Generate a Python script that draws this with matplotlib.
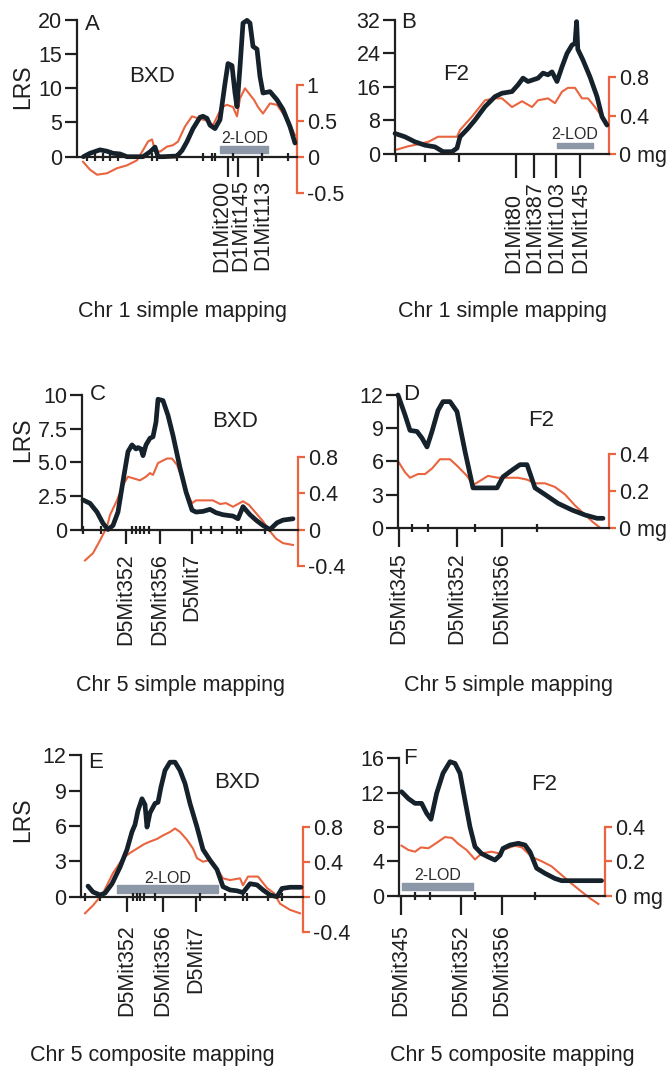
import matplotlib
matplotlib.use('Agg')
import matplotlib.pyplot as plt

plt.rcParams['font.family'] = ['Liberation Sans', 'DejaVu Sans']

W, H = 672, 1073
INK = '#1f1f1f'
LRS_COL = '#15212b'
EFF_COL = '#e9643f'
LOD_COL = '#8c97a7'

# ---- A: Chr 1, BXD, simple mapping ----
a_lrs_cm = [3.2, 6.5, 11.5, 15, 18, 21.5, 25, 30, 33, 36.5, 39, 40.5, 43, 50, 52.5, 55, 58, 61.5, 63, 65,
            66.5, 69, 71.5, 74, 75.5, 77.5, 79, 80, 81.5, 83, 85, 86.5, 88, 90, 91.5, 93, 96.5, 100, 103,
            106.5, 109]
a_lrs = [0, 0.5, 1.0, 0.8, 0.5, 0.4, 0, 0, 0, 0.7, 1.4, 0, 0, 0.1, 0.9, 2.2, 4.1, 5.75, 5.9, 5.6,
         4.6, 4.1, 5.4, 10.7, 13.6, 13.3, 9.3, 7.3, 13.1, 19.5, 19.9, 19.5, 16.1, 15.7, 11.7, 9.3, 9.5, 8.3,
         6.9, 4.4, 2.0]
a_eff_cm = [3, 6.5, 10, 15, 20, 25, 30, 33, 35.5, 37.5, 39, 41.5, 45, 48, 50.5, 54, 57.5, 61, 65, 68,
            72.5, 75, 78, 80, 81.5, 84, 86.5, 88.5, 90.5, 93, 96.5, 100, 103, 106.5, 109]
a_eff = [-0.07, -0.18, -0.25, -0.23, -0.16, -0.12, -0.05, 0.09, 0.21, 0.24, 0.09, 0.07, 0.14, 0.16, 0.21,
         0.42, 0.56, 0.53, 0.5, 0.44, 0.69, 0.72, 0.69, 0.56, 0.81, 0.95, 0.86, 0.79, 0.69, 0.6, 0.74,
         0.72, 0.6, 0.45, 0.3]
a_minor = [5, 9, 13, 16.5, 20.5, 37.5, 40, 50, 63, 67.5, 69, 78, 92.5, 105.5]
a_markers = [75.3, 80.3, 90.7]
a_names = ['D1Mit200', 'D1Mit145', 'D1Mit113']
a_lod = (71.5, 95.7, 1.12)

# ---- B: Chr 1, F2, simple mapping ----
b_lrs_cm = [0, 5, 10, 15, 20, 24, 28.5, 31, 32.5, 36.5, 40, 45, 50, 53.5, 58.5, 61.5, 64, 66.5, 69,
            71.5, 74, 76.5, 78.5, 81, 83.5, 86, 88.5, 90, 90.8, 91.4, 94, 97.5, 101, 103.5, 106]
b_lrs = [4.9, 4.1, 2.9, 2.1, 1.7, 0.55, 0.55, 1.4, 4.1, 6.1, 8.1, 11.3, 13.7, 14.5, 14.9, 16.5, 18.1,
         17.3, 17.7, 18.1, 19.3, 18.9, 19.6, 17.3, 20.8, 24.0, 26.0, 26.4, 31.6, 25.0, 22.4, 18.4, 13.7,
         8.9, 6.9]
b_eff_cm = [0, 6.5, 13.5, 17, 21.5, 31, 32.5, 38.5, 45, 50, 53.5, 58.5, 63.5, 68.5, 71.5, 76.5, 80,
            83.5, 86.5, 90, 93.5, 96.5, 100, 103.5, 105.5]
b_eff = [0.04, 0.08, 0.11, 0.13, 0.18, 0.18, 0.25, 0.39, 0.56, 0.58, 0.58, 0.49, 0.55, 0.49, 0.56,
         0.58, 0.53, 0.65, 0.69, 0.69, 0.58, 0.58, 0.49, 0.39, 0.32]
b_minor = [0.5, 15, 32]
b_markers = [60.5, 69.5, 80.5, 92.5]
b_names = ['D1Mit80', 'D1Mit387', 'D1Mit103', 'D1Mit145']
b_lod = (81, 99, 1.96)

# ---- C: Chr 5, BXD, simple mapping ----
c_lrs_cm = [0.5, 4, 7.5, 10.5, 13, 15.5, 18, 20.5, 23, 25, 27, 28, 29.5, 30.5, 32, 34, 35.5, 37, 38,
            40.5, 43, 45.5, 49, 52, 55, 57, 60.5, 64, 67, 70.5, 75.5, 78, 80.5, 84, 87, 90.5, 94, 97.5,
            100.5, 105.5]
c_lrs = [2.2, 1.95, 1.3, 0.46, 0.0, 0.3, 1.3, 3.6, 5.8, 6.3, 6.0, 6.1, 6.0, 5.5, 6.3, 6.8, 6.9, 8.0,
         9.7, 9.6, 8.5, 7.0, 4.6, 2.8, 1.45, 1.3, 1.35, 1.5, 1.25, 1.1, 1.0, 0.8, 1.7, 1.1, 0.7, 0.3, 0.0,
         0.5, 0.7, 0.8]
c_eff_cm = [1.5, 5.5, 9, 12.5, 14, 17.5, 20.5, 23, 26, 29, 32, 34, 35.5, 38, 42.5, 45, 47.5, 50.5, 53,
            55, 57, 60.5, 65.5, 69, 72, 75.5, 80.5, 83.5, 87, 90.5, 94, 97, 100.5, 105.5]
c_eff = [-0.34, -0.26, -0.12, 0.03, 0.16, 0.32, 0.49, 0.58, 0.56, 0.54, 0.58, 0.62, 0.6, 0.73, 0.78,
         0.78, 0.71, 0.53, 0.38, 0.29, 0.32, 0.32, 0.32, 0.28, 0.29, 0.25, 0.31, 0.27, 0.18, 0.09, -0.02,
         -0.1, -0.15, -0.17]
c_minor = [0.5, 9.5, 25, 27, 29, 31, 33.5, 59.5, 64.5, 70, 77.5, 79.5, 91.5]
c_markers = [22, 39, 55]
c_names = ['D5Mit352', 'D5Mit356', 'D5Mit7']

# ---- D: Chr 5, F2, simple mapping ----
d_lrs_cm = [0, 3.5, 6, 9.5, 12, 14.5, 17, 20, 22.5, 26, 29.5, 33.5, 37.5, 43.5, 49.5, 52.5, 57, 61,
            64.5, 68.5, 73.5, 80, 87, 93.5, 99.5, 102.5]
d_lrs = [12, 10.2, 8.8, 8.7, 8.1, 7.3, 8.7, 10.6, 11.4, 11.4, 10.5, 6.9, 3.6, 3.6, 3.6, 4.6, 5.2, 5.7,
         5.7, 3.6, 3.0, 2.2, 1.6, 1.15, 0.85, 0.85]
d_eff_cm = [0, 3.5, 6, 10, 13.5, 17, 21, 26, 30, 34.5, 37.5, 42, 45, 50, 55, 60, 64.5, 68.5, 73.5,
            78.5, 83.5, 88.5, 93.5, 97.5, 101]
d_eff = [0.36, 0.3, 0.27, 0.29, 0.29, 0.32, 0.37, 0.37, 0.33, 0.28, 0.23, 0.26, 0.28, 0.27, 0.27,
         0.27, 0.26, 0.24, 0.24, 0.22, 0.18, 0.12, 0.07, 0.03, 0.0]
d_minor = [7, 15, 38.5, 69.5]
d_markers = [0.3, 29.5, 52]
d_names = ['D5Mit345', 'D5Mit352', 'D5Mit356']

# ---- E: Chr 5, BXD, composite mapping ----
e_lrs_cm = [3.5, 6, 9.5, 12, 15.5, 19.5, 23, 25.5, 27, 28.5, 30.5, 32, 33, 34.5, 37, 38.5, 40, 42,
            44.5, 47, 49.5, 52, 54.5, 58, 61, 64.5, 68, 71, 74.5, 78, 81, 84.5, 88, 91, 94.5, 98, 100.5,
            104.5, 110]
e_lrs = [0.9, 0.4, 0.15, 0.3, 1.1, 2.5, 4.0, 5.5, 6.1, 7.3, 8.3, 7.8, 5.9, 7.1, 7.9, 8.0, 9.3, 10.7,
         11.4, 11.4, 10.7, 9.6, 7.9, 5.9, 4.0, 3.1, 2.3, 0.85, 0.57, 0.5, 0.35, 1.1, 1.0, 0.57, 0.15, 0.0,
         0.7, 0.8, 0.8]
e_eff_cm = [2, 6, 11, 16, 21, 24.5, 28, 31.5, 34.5, 38, 41, 44.5, 47, 49.5, 53, 56, 58, 61, 64.5, 68,
            71, 74.5, 79.5, 81, 83.5, 88.5, 93, 96.5, 99.5, 104.5, 109.5]
e_eff = [-0.19, -0.1, 0.04, 0.27, 0.44, 0.5, 0.55, 0.6, 0.63, 0.66, 0.7, 0.74, 0.78, 0.74, 0.65, 0.55,
         0.44, 0.4, 0.42, 0.32, 0.21, 0.19, 0.21, 0.13, 0.23, 0.23, 0.1, 0.04, -0.08, -0.15, -0.19]
e_minor = [2, 9.5, 26, 28, 29.5, 31.5, 37, 59.5, 72, 81, 83, 93.5, 100.5]
e_markers = [23, 41, 57.5]
e_names = ['D5Mit352', 'D5Mit356', 'D5Mit7']
e_lod = (18, 68.5, 0.65)

# ---- F: Chr 5, F2, composite mapping ----
f_lrs_cm = [1.3, 4.7, 8, 11.3, 13.8, 16, 18.8, 22, 25.5, 28, 30.5, 33, 35.5, 38, 41.3, 44.7, 48, 50.5,
            52, 55.5, 59.7, 63, 65.5, 68.8, 73, 78, 81.3, 101.3]
f_lrs = [12.1, 11.3, 10.75, 10.75, 9.6, 8.9, 11.9, 14.25, 15.6, 15.4, 14.25, 11.1, 8.0, 5.7, 4.9, 4.5,
         4.15, 4.7, 5.5, 5.9, 6.1, 5.9, 5.1, 3.2, 2.6, 2.0, 1.75, 1.75]
f_eff_cm = [1.3, 4.7, 8, 11, 14.7, 18, 23, 26.5, 29.7, 33.8, 38, 41.3, 46.3, 50, 53, 58, 61.5, 66.3,
            71.3, 76.3, 81.3, 86.3, 91.3, 95.5, 99.7]
f_eff = [0.29, 0.265, 0.255, 0.28, 0.275, 0.30, 0.34, 0.335, 0.30, 0.265, 0.21, 0.245, 0.255, 0.245,
         0.27, 0.29, 0.28, 0.225, 0.2, 0.17, 0.12, 0.07, 0.023, -0.015, -0.048]
f_minor = [8, 15.5, 38, 68]
f_markers = [1, 31, 51.5]
f_names = ['D5Mit345', 'D5Mit352', 'D5Mit356']
f_lod = (1.3, 37, 1.05)

fig = plt.figure(figsize=(W / 100, H / 100), dpi=100)


def px_rect(left, right, top, bottom):
    return [left / W, 1 - bottom / H, (right - left) / W, (bottom - top) / H]


def ftext(x, y, s, **kw):
    kw.setdefault('color', INK)
    fig.text(x / W, 1 - y / H, s, **kw)


def panel(box, zero, lrs_px, eff_px, lrs_cm, lrs, eff_cm, eff,
          lrs_ticks, lrs_labels, eff_ticks, eff_labels,
          minor, markers, names, mark_len, name_off, name_va='top',
          shifts=None, lod=None, lod_px=6, minor_dir='inout'):
    left, right, top, bottom = box
    ax = fig.add_axes(px_rect(left, right, top, bottom))
    ax.set_xlim(0, (right - left) / 2.0)
    ax.set_ylim((zero - bottom) / lrs_px, (zero - top) / lrs_px)
    ax2 = ax.twinx()
    ax2.set_ylim((zero - bottom) / eff_px, (zero - top) / eff_px)
    # keep the LRS trace above the effect trace
    ax.set_zorder(2)
    ax2.set_zorder(1)
    ax.patch.set_visible(False)

    ax2.plot(eff_cm, eff, color=EFF_COL, lw=1.5, clip_on=False, solid_joinstyle='round')
    ax.plot(lrs_cm, lrs, color=LRS_COL, lw=3.4, clip_on=False,
            solid_joinstyle='round', solid_capstyle='round')

    if lod is not None:
        x0, x1, lvl = lod
        h = lod_px / lrs_px
        ax.broken_barh([(x0, x1 - x0)], (lvl - h / 2, h), color=LOD_COL, zorder=1)
        ax.annotate('2-LOD', xy=((x0 + x1) / 2, lvl), xytext=(0, 11), textcoords='offset pixels',
                    ha='center', va='center', fontsize=11.5, color='#2a2a2a')

    for s in ['top', 'right']:
        ax.spines[s].set_visible(False)
    for s in ['top', 'left', 'bottom']:
        ax2.spines[s].set_visible(False)
    ax.spines['left'].set_bounds(0, max(lrs_ticks))
    ax.spines['bottom'].set_position(('data', 0))
    for s in ['left', 'bottom']:
        ax.spines[s].set_linewidth(1.6)
        ax.spines[s].set_color(INK)
    ax2.spines['right'].set_bounds(min(eff_ticks), max(eff_ticks))
    ax2.spines['right'].set_color(EFF_COL)
    ax2.spines['right'].set_linewidth(1.6)

    ax.set_yticks(lrs_ticks, labels=lrs_labels)
    ax.tick_params(axis='y', direction='out', length=9, width=1.6, pad=1.5,
                   labelsize=15.5, color=INK, labelcolor=INK)
    ax2.set_yticks(eff_ticks, labels=eff_labels)
    ax2.tick_params(axis='y', direction='out', length=5, width=1.6, pad=2,
                    labelsize=15.5, color=EFF_COL, labelcolor=INK)

    ax.set_xticks(markers, labels=[''] * len(markers))
    ax.set_xticks(minor, minor=True)
    ax.tick_params(axis='x', which='major', direction='out', length=mark_len * 0.72,
                   width=1.6, color=INK)
    ax.tick_params(axis='x', which='minor', direction=minor_dir, length=6, width=1.6, color=INK)

    if shifts is None:
        shifts = [0] * len(markers)
    for m, name, dx in zip(markers, names, shifts):
        ax.annotate(name, xy=(m, 0), xytext=(dx, -name_off), textcoords='offset pixels',
                    rotation=90, ha='center', va=name_va, fontsize=15.5, color=INK)
    return ax, ax2


panel((77, 297, 15, 200), 156.7, 6.85, 72, a_lrs_cm, a_lrs, a_eff_cm, a_eff,
      [0, 5, 10, 15, 20], ['0', '5', '10', '15', '20'],
      [-0.5, 0, 0.5, 1], ['-0.5', '0', '0.5', '1'],
      a_minor, a_markers, a_names, 20, 23, shifts=[-6, 3, 4], lod=a_lod, lod_px=7)

panel((395, 609, 15, 165), 154, 4.19, 95.9, b_lrs_cm, b_lrs, b_eff_cm, b_eff,
      [0, 8, 16, 24, 32], ['0', '8', '16', '24', '32'],
      [0, 0.4, 0.8], ['0 mg', '0.4', '0.8'],
      b_minor, b_markers, b_names, 24, 119, name_va='bottom', shifts=[-2, 1, 1, 1],
      lod=b_lod, lod_px=5, minor_dir='out')

panel((82, 298, 390, 570), 529.5, 13.43, 91, c_lrs_cm, c_lrs, c_eff_cm, c_eff,
      [0, 2.5, 5, 7.5, 10], ['0', '2.5', '5.0', '7.5', '10'],
      [-0.4, 0, 0.4, 0.8], ['-0.4', '0', '0.4', '0.8'],
      c_minor, c_markers, c_names, 14, 23.5)

panel((398, 609, 390, 535), 527.7, 11.06, 185, d_lrs_cm, d_lrs, d_eff_cm, d_eff,
      [0, 3, 6, 9, 12], ['0', '3', '6', '9', '12'],
      [0, 0.2, 0.4], ['0 mg', '0.2', '0.4'],
      d_minor, d_markers, d_names, 19, 25)

panel((81, 303, 750, 937), 896.7, 11.8, 87.5, e_lrs_cm, e_lrs, e_eff_cm, e_eff,
      [0, 3, 6, 9, 12], ['0', '3', '6', '9', '12'],
      [-0.4, 0, 0.4, 0.8], ['-0.4', '0', '0.4', '0.8'],
      e_minor, e_markers, e_names, 15, 28, lod=e_lod, lod_px=8)

panel((399, 605, 752, 905), 895.7, 8.59, 172.5, f_lrs_cm, f_lrs, f_eff_cm, f_eff,
      [0, 4, 8, 12, 16], ['0', '4', '8', '12', '16'],
      [0, 0.2, 0.4], ['0 mg', '0.2', '0.4'],
      f_minor, f_markers, f_names, 19, 29, lod=f_lod, lod_px=7)

# panel letters, strain names, axis titles and captions
for x, y, s in [(85, 25, 'A'), (401, 22, 'B'), (90, 395, 'C'), (403, 395, 'D'),
                (88, 763, 'E'), (403, 758, 'F')]:
    ftext(x, y, s, ha='left', va='center', fontsize=16)

for x, y, s in [(152, 77, 'BXD'), (456, 75, 'F2'), (235, 422, 'BXD'), (541, 420, 'F2'),
                (237, 783, 'BXD'), (544, 785, 'F2')]:
    ftext(x, y, s, ha='center', va='center', fontsize=16)

for y in [87, 440, 820]:
    ftext(23, y, 'LRS', ha='center', va='center', rotation=90, fontsize=16.5)

for x, y, s in [(183, 312, 'Chr 1 simple mapping'), (503, 312, 'Chr 1 simple mapping'),
                (180, 686, 'Chr 5 simple mapping'), (508, 686, 'Chr 5 simple mapping'),
                (152, 1056, 'Chr 5 composite mapping'), (512, 1056, 'Chr 5 composite mapping')]:
    ftext(x, y, s, ha='center', va='center', fontsize=15.5)

fig.savefig('out.png', dpi=100)
